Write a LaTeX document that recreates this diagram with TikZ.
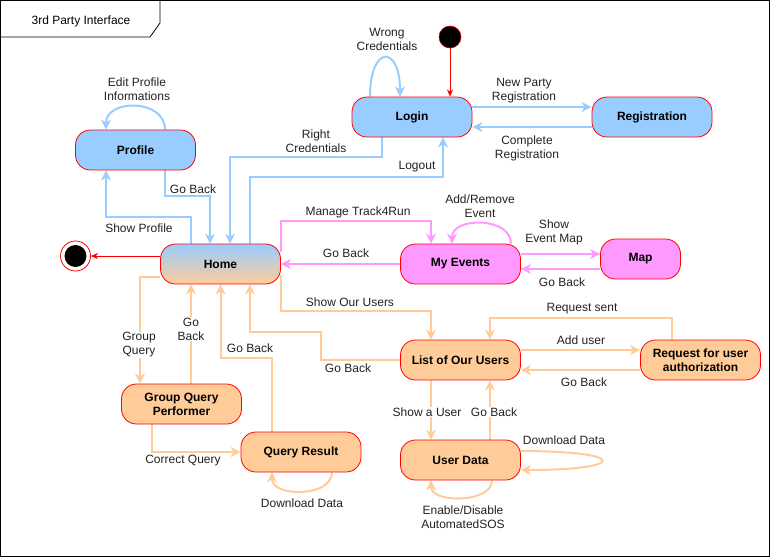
\documentclass[tikz,border=0pt]{standalone}
\usepackage{fontspec}
\setmainfont{Liberation Sans}
\usetikzlibrary{arrows.meta,calc}
\definecolor{blueF}{HTML}{99CCFF}
\definecolor{pinkF}{HTML}{FF99FF}
\definecolor{orangeF}{HTML}{FFCC99}
\definecolor{txt}{HTML}{222222}
\pgfdeclarelayer{background}
\pgfsetlayers{background,main}
\tikzset{
  statebox/.style={draw=red, line width=0.8pt, rounded corners=15pt, minimum width=120pt,
    minimum height=40pt, inner sep=2pt, align=center, text=black,
    font=\fontsize{12}{14}\selectfont\bfseries},
  bluebox/.style={statebox, fill=blueF},
  pinkbox/.style={statebox, fill=pinkF},
  orangebox/.style={statebox, fill=orangeF},
  lbl/.style={fill=white, inner sep=1pt, align=center, text=txt, font=\fontsize{12}{14}\selectfont},
  arr/.style={-{Stealth[length=10pt,width=10pt,inset=3pt]}},
  bedge/.style={arr, draw=blueF, line width=2pt},
  pedge/.style={arr, draw=pinkF, line width=2pt},
  oedge/.style={arr, draw=orangeF, line width=2pt},
  redge/.style={-{Stealth[length=7pt,width=6pt,inset=2pt]}, draw=red, line width=0.8pt},
}
\begin{document}
\begin{tikzpicture}[x=1pt,y=-1pt]
\useasboundingbox (0,0) rectangle (771,558);
% frame
\draw[line width=0.8pt] (0.5,0.5) rectangle (769.5,556);
\draw[line width=0.8pt] (0.5,37) -- (150,37) -- (160,23) -- (160,0.5);
\node[font=\fontsize{12}{14}\selectfont, text=black] (title) at (81,21) {3rd Party Interface};

% nodes
\node[bluebox] (login) at (412,117) {Login};
\node[bluebox] (reg) at (652,117) {Registration};
\node[bluebox] (profile) at (135.5,150) {Profile};
\node[statebox, top color=blueF, bottom color=orangeF] (home) at (220.5,264) {Home};
\node[pinkbox] (myev) at (460.5,264) {My Events};
\node[pinkbox, minimum width=80pt] (map) at (640.5,259) {Map};
\node[orangebox] (list) at (460.5,360) {List of Our Users};
\node[orangebox] (req) at (700.5,360) {Request for user\\authorization};
\node[orangebox] (ud) at (460.5,460) {User Data};
\node[orangebox] (gqp) at (181.5,404) {Group Query\\Performer};
\node[orangebox] (qr) at (301,452) {Query Result};
\node[circle, fill=black, draw=red!80!black, line width=0.6pt, minimum size=22pt, inner sep=0pt] (start) at (450,37) {};
\node[circle, fill=white, draw=red, line width=0.8pt, minimum size=30pt, inner sep=0pt] (endc) at (75.5,256) {};
\node[circle, fill=black, minimum size=22pt, inner sep=0pt] (endin) at (endc.center) {};

% labels
\node[lbl] (l1) at (387,39) {Wrong\\Credentials};
\node[lbl] (l2) at (524,91) {New Party\\Registration};
\node[lbl] (l3) at (527,148) {Complete\\Registration};
\node[lbl] (l4) at (316,141) {Right\\Credentials};
\node[lbl] (l5) at (417,167) {Logout};
\node[lbl] (l6) at (137,89) {Edit Profile\\Informations};
\node[lbl] (l7) at (193,189) {Go Back};
\node[lbl] (l8) at (139,228) {Show Profile};
\node[lbl] (l9) at (358,212) {Manage Track4Run};
\node[lbl] (l10) at (346,253) {Go Back};
\node[lbl] (l11) at (480,206) {Add/Remove\\Event};
\node[lbl] (l12) at (554,232) {Show\\Event Map};
\node[lbl] (l13) at (562,282) {Go Back};
\node[lbl] (l14) at (350,302) {Show Our Users};
\node[lbl] (l15) at (348,368) {Go Back};
\node[lbl] (l16) at (139,345) {Group\\Query};
\node[lbl] (l17) at (191,329) {Go\\Back};
\node[lbl] (l18) at (250,348) {Go Back};
\node[lbl] (l19) at (183,461) {Correct Query};
\node[lbl] (l20) at (302,503) {Download Data};
\node[lbl] (l21) at (582,309) {Request sent};
\node[lbl] (l22) at (581,340) {Add user};
\node[lbl] (l23) at (584,382) {Go Back};
\node[lbl] (l24) at (427,412) {Show a User};
\node[lbl] (l25) at (494,412) {Go Back};
\node[lbl] (l26) at (564,440) {Download Data};
\node[lbl] (l27) at (463,517) {Enable/Disable\\AutomatedSOS};

\begin{pgfonlayer}{background}
% red
\draw[redge] (start.south) -- (start.south |- login.north);
\draw[redge] ($(home.west)+(0,-8)$) -- (endc.east);
% blue
\draw[bedge] ($(login.east)+(0,-10)$) -- ($(reg.west)+(0,-10)$);
\draw[bedge] ($(reg.west)+(0,10)$) -- ($(login.east)+(0,10)$);
\draw[bedge] ($(login.south)+(-30,0)$) -- ++(0,20) -| ($(home.north)+(9.5,0)$);
\draw[bedge] ($(home.north)+(29.5,0)$) -- ++(0,-67) -| ($(login.south)+(31,0)$);
\draw[bedge] ($(profile.south)+(29.5,0)$) -- ++(0,26) -| ($(home.north)+(-10.5,0)$);
\draw[bedge] ($(home.north)+(-29.5,0)$) -- ++(0,-27) -| ($(profile.south)+(-29.5,0)$);
\draw[bedge] ($(profile.north)+(29.5,0)$) .. controls +(0,-31) and +(0,-31) .. ($(profile.north)+(-29.5,0)$);
\draw[bedge] ($(login.north)+(-42,0)$) .. controls +(0,-52) and +(0,-52) .. ($(login.north)+(-12,0)$);
% pink
\draw[pedge] ($(home.east)+(0,-12)$) -- ++(0,-31) -| ($(myev.north)+(-29.5,0)$);
\draw[pedge] (myev.west) -- (home.east);
\draw[pedge] ($(myev.north)+(50.5,0)$) .. controls +(0,-27) and +(0,-27) .. ($(myev.north)+(-8.5,0)$);
\draw[pedge] ($(myev.east)+(0,-10)$) -- ($(map.west)+(0,-5)$);
\draw[pedge] ($(map.west)+(0,10)$) -- ($(myev.east)+(0,5)$);
% orange
\draw[oedge] ($(home.east)+(0,11)$) -- ++(0,36) -| ($(list.north)+(-29.5,0)$);
\draw[oedge] (list.west) -- ++(-79,0) -- ++(0,-28) -| ($(home.south)+(29.5,0)$);
\draw[oedge] ($(home.west)+(0,13)$) -| ($(gqp.north)+(-41.5,0)$);
\draw[oedge] ($(gqp.north)+(9.5,0)$) -- ($(home.south)+(-29.5,0)$);
\draw[oedge] ($(qr.north)+(-29,0)$) -- ++(0,-74) -| (home.south);
\draw[oedge] ($(gqp.south)+(-29.5,0)$) |- (qr.west);
\draw[oedge] ($(qr.south)+(31,0)$) .. controls +(0,25) and +(0,25) .. ($(qr.south)+(-29,0)$);
\draw[oedge] ($(list.south)+(-29.5,0)$) -- ($(ud.north)+(-29.5,0)$);
\draw[oedge] ($(ud.north)+(29.5,0)$) -- ($(list.south)+(29.5,0)$);
\draw[oedge] ($(ud.east)+(0,-9)$) .. controls +(108,0) and +(108,0) .. ($(ud.east)+(0,10)$);
\draw[oedge] ($(ud.south)+(31.5,0)$) .. controls +(0,23) and +(0,23) .. ($(ud.south)+(-29.5,0)$);
\draw[oedge] ($(list.east)+(0,-10)$) -- ($(req.west)+(0,-10)$);
\draw[oedge] ($(req.west)+(0,10)$) -- ($(list.east)+(0,10)$);
\draw[oedge] ($(req.north)+(-28.5,0)$) -- ++(0,-22) -| ($(list.north)+(29.5,0)$);
\end{pgfonlayer}
\end{tikzpicture}
\end{document}
